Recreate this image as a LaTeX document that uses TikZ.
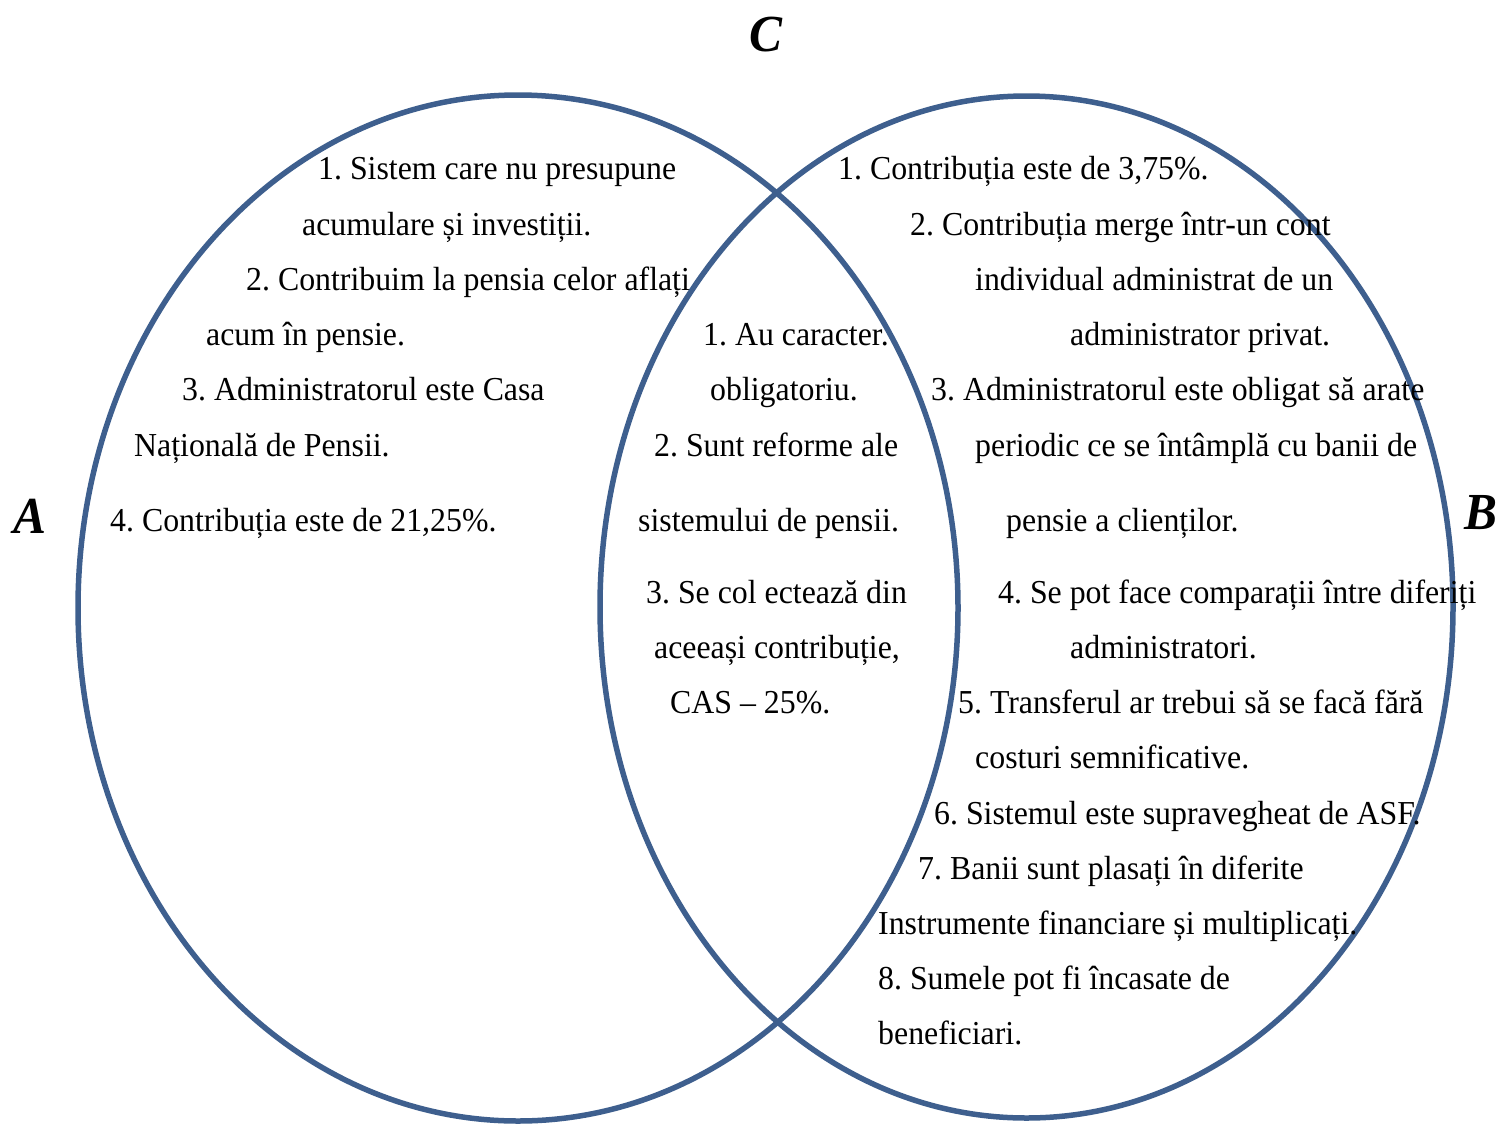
\documentclass[tikz,border=0pt]{standalone}
\usepackage{fontspec}
\setmainfont{Liberation Serif}
\newfontfamily\txtfont[FakeStretch=0.95]{Liberation Serif}
\newfontfamily\lblfont[FakeStretch=0.95,BoldItalicFont={* Bold Italic}]{Liberation Serif}
\definecolor{ellblue}{HTML}{3E5F8E}
\frenchspacing
\begin{document}
\frenchspacing
\begin{tikzpicture}[x=1pt,y=-1pt,
  txt/.style={anchor=base west,inner sep=0pt,font=\txtfont\fontsize{33.5}{40}\selectfont\frenchspacing},
  lbl/.style={anchor=base,inner sep=0pt,font=\lblfont\fontsize{52}{60}\selectfont\bfseries\itshape},
  ell/.style={draw=ellblue,line width=5.5pt}]
\useasboundingbox (0,0) rectangle (1499,1125);
% ellipses
\draw[ell] (518,608) ellipse [x radius=440, y radius=513];
\draw[ell] (1026.5,607) ellipse [x radius=426.5, y radius=511];
% labels
\node[lbl] (C) at (766,51) {C};
\node[lbl] (A) at (30,533) {A};
\node[lbl] (B) at (1481,529) {B};
% left set
\node[txt] (l1) at (318,179) {1. Sistem care nu presupune};
\node[txt] (l2) at (302,235) {acumulare și investiții.};
\node[txt] (l3) at (246,290) {2. Contribuim la pensia celor aflați};
\node[txt] (l4) at (206,345) {acum în pensie.};
\node[txt] (l5) at (182,400) {3. Administratorul este Casa};
\node[txt] (l6) at (134,456) {Națională de Pensii.};
\node[txt] (l7) at (110,531) {4. Contribuția este de 21,25\%.};
% middle
\node[txt] (m1) at (703,345) {1. Au caracter.};
\node[txt] (m2) at (710,400) {obligatoriu.};
\node[txt] (m3) at (654,456) {2. Sunt reforme ale};
\node[txt] (m4) at (638,531) {sistemului de pensii.};
\node[txt] (m5) at (646,603) {3. Se col ectează din};
\node[txt] (m6) at (654,658) {aceeași contribuție,};
\node[txt] (m7) at (670,713) {CAS – 25\%.};
% right set
\node[txt] (r1) at (838,179) {1. Contribuția este de 3,75\%.};
\node[txt] (r2) at (910,235) {2. Contribuția merge într-un cont};
\node[txt] (r3) at (975,290) {individual administrat de un};
\node[txt] (r4) at (1070,345) {administrator privat.};
\node[txt] (r5) at (931,400) {3. Administratorul este obligat să arate};
\node[txt] (r6) at (975,456) {periodic ce se întâmplă cu banii de};
\node[txt] (r7) at (1006,531) {pensie a clienților.};
\node[txt] (r8) at (998,603) {4. Se pot face comparații între diferiți};
\node[txt] (r9) at (1070,658) {administratori.};
\node[txt] (r10) at (958,713) {5. Transferul ar trebui să se facă fără};
\node[txt] (r11) at (975,768) {costuri semnificative.};
\node[txt] (r12) at (934,824) {6. Sistemul este supravegheat de ASF.};
\node[txt] (r13) at (918,879) {7. Banii sunt plasați în diferite};
\node[txt] (r14) at (878,934) {Instrumente financiare și multiplicați.};
\node[txt] (r15) at (878,989) {8. Sumele pot fi încasate de};
\node[txt] (r16) at (878,1044) {beneficiari.};
\end{tikzpicture}
\end{document}
